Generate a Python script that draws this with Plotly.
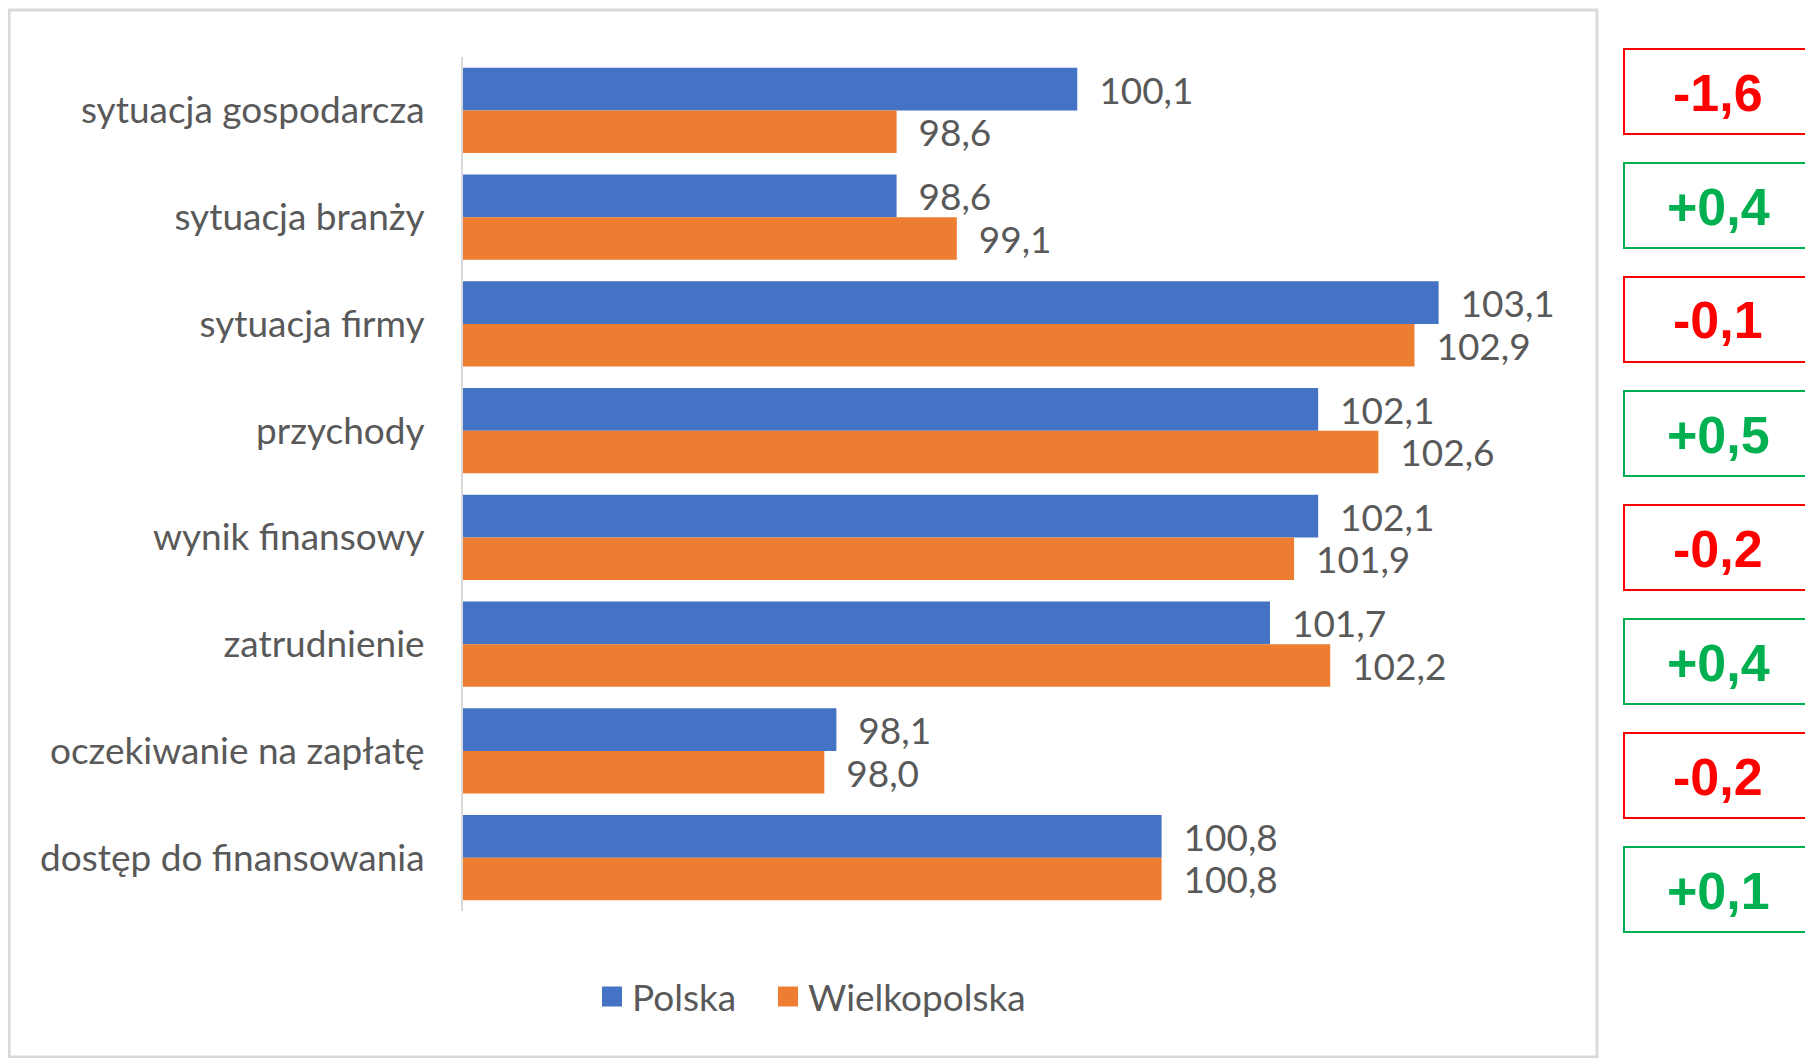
import plotly.graph_objects as go

categories = ["sytuacja gospodarcza", "sytuacja branży", "sytuacja firmy", "przychody",
              "wynik finansowy", "zatrudnienie", "oczekiwanie na zapłatę", "dostęp do finansowania"]
polska = [100.1, 98.6, 103.1, 102.1, 102.1, 101.7, 98.1, 100.8]
wielkopolska = [98.6, 99.1, 102.9, 102.6, 101.9, 102.2, 98.0, 100.8]
diff_labels = ["-1,6", "+0,4", "-0,1", "+0,5", "-0,2", "+0,4", "-0,2", "+0,1"]

OFF = 8  # page body margin
W, H = 1813 - OFF, 1058 - OFF
PL, PR, PT, PB = 463 - OFF, 1547 - OFF, 57 - OFF, 911 - OFF  # plot area in figure px
FONT = "Lato"
GREY = "#595959"
FS = 37


def px_x(px):  # page px -> paper
    return (px - OFF - PL) / (PR - PL)


def px_y(py):
    return (PB - (py - OFF)) / (PB - PT)


def fmt(v):
    return "\u00a0\u00a0" + f"{v:.1f}".replace(".", ",")


fig = go.Figure()
fig.add_trace(go.Bar(
    y=categories, x=polska, orientation="h", name="Polska",
    marker=dict(color="#4472C4", line=dict(width=0)),
    text=[fmt(v) for v in polska], textposition="outside", constraintext="none",
    cliponaxis=False, textfont=dict(family=FONT, size=FS, color=GREY),
    showlegend=False,
))
fig.add_trace(go.Bar(
    y=categories, x=wielkopolska, orientation="h", name="Wielkopolska",
    marker=dict(color="#ED7D31", line=dict(width=0)),
    text=[fmt(v) for v in wielkopolska], textposition="outside", constraintext="none",
    cliponaxis=False, textfont=dict(family=FONT, size=FS, color=GREY),
    showlegend=False,
))
# legend entries
for nm, col, lg in [("Polska", "#4472C4", "legend"), ("Wielkopolska", "#ED7D31", "legend2")]:
    fig.add_trace(go.Scatter(x=[None], y=[None], mode="markers", name=nm, legend=lg,
                             marker=dict(symbol="square", size=16, color=col,
                                         line=dict(color=col, width=4))))

shapes = [dict(type="rect", xref="paper", yref="paper",
               x0=px_x(9), x1=px_x(1597), y0=px_y(1057), y1=px_y(10),
               line=dict(color="#D9D9D9", width=3), fillcolor="rgba(0,0,0,0)", layer="below")]
annotations = []
for i, lab in enumerate(diff_labels):
    top = 49 + 114 * i
    bot = top + 85
    col = "#FF0000" if lab.startswith("-") else "#00B050"
    shapes.append(dict(type="rect", xref="paper", yref="paper",
                       x0=px_x(1624), x1=px_x(1830), y0=px_y(bot), y1=px_y(top),
                       line=dict(color=col, width=2), fillcolor="white"))
    annotations.append(dict(xref="paper", yref="paper", x=px_x(1718), y=px_y((top + bot) / 2 + 1),
                            text=f"<b>{lab}</b>", showarrow=False, xanchor="center", yanchor="middle",
                            font=dict(family="Liberation Sans, Arial", size=52, color=col)))

legend_common = dict(orientation="h", xanchor="left", yanchor="middle", y=px_y(997),
                     font=dict(family=FONT, size=FS, color=GREY), bgcolor="rgba(0,0,0,0)")

fig.update_layout(
    width=W, height=H,
    margin=dict(l=PL, r=W - PR, t=PT, b=H - PB, pad=0),
    paper_bgcolor="white", plot_bgcolor="white",
    barmode="group", bargap=0.2, bargroupgap=0,
    shapes=shapes, annotations=annotations,
    legend=dict(x=px_x(592), **legend_common),
    legend2=dict(x=px_x(768), **legend_common),
    font=dict(family=FONT, color=GREY),
)
fig.update_xaxes(range=[95, 104], showgrid=False, zeroline=False, showticklabels=False,
                 showline=False, ticks="")
fig.update_yaxes(type="category", autorange="reversed", showline=True, linecolor="#D9D9D9",
                 linewidth=2, ticks="", ticklabelstandoff=29, showgrid=False,
                 tickfont=dict(family=FONT, size=FS, color=GREY))

fig.write_html("out.html")
